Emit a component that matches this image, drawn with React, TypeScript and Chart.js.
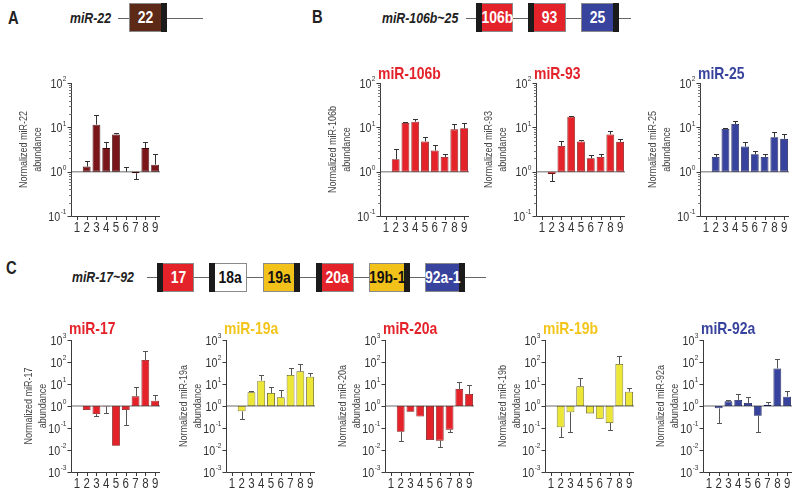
import React, { useEffect, useRef } from 'react';
import { Chart, registerables } from 'chart.js';
Chart.register(...registerables);

const FONT = "'Liberation Sans', Arial, sans-serif";
const SX = 0.82; // horizontal condensing to mimic the condensed face of the original

const categories = ['1', '2', '3', '4', '5', '6', '7', '8', '9'];

const topTickExponents = [-1, 0, 1, 2];
const bottomTickExponents = [-3, -2, -1, 0, 1, 2, 3];

const miR22Values = [null, 1.3, 11.5, 3.4, 6.9, 1.0, 0.92, 3.4, 1.44];
const miR22Errors = [null, 1.7, 19, 4.6, 7.6, 1.25, 0.7, 4.6, 2.5];

const miR106bValues = [null, 1.9, 12.5, 13.4, 4.8, 3.0, 2.15, 9.0, 9.5];
const miR106bErrors = [null, 3.2, 12.9, 15.3, 6.2, 3.9, 2.56, 12, 12.5];

const miR93Values = [null, 0.89, 3.8, 17.4, 4.8, 2.0, 2.15, 6.9, 4.7];
const miR93Errors = [null, 0.63, 4.8, 17.6, 5.3, 2.35, 2.56, 8.4, 5.5];

const miR25Values = [null, 2.15, 9.2, 11.9, 3.7, 2.47, 2.15, 6.0, 5.5];
const miR25Errors = [null, 2.56, 9.5, 14, 4.6, 2.9, 2.47, 8.0, 7.1];

const miR17Values = [null, 0.66, 0.43, 0.95, 0.0157, 0.66, 2.75, 123, 1.75];
const miR17Errors = [null, null, 0.36, 0.46, null, 0.142, 7.1, 304, 3.16];

const miR19aValues = [null, 0.57, 4.2, 14.2, 3.9, 2.48, 25.6, 37.6, 21.5];
const miR19aErrors = [null, 0.26, 4.6, 25.6, 7.1, 5.3, 51, 81, 31.6];

const miR20aValues = [null, 0.068, 0.55, 0.33, 0.0285, 0.0266, 0.084, 5.9, 3.5];
const miR20aErrors = [null, 0.0266, null, null, null, 0.0142, 0.064, 12.8, 9.0];

const miR19bValues = [null, 0.107, 0.52, 7.8, 0.46, 0.26, 0.17, 81, 4.5];
const miR19bErrors = [null, 0.038, 0.068, 18, null, null, 0.084, 195, 6.6];

const miR92aValues = [null, 0.78, 1.63, 1.87, 1.37, 0.36, 1.15, 51, 2.65];
const miR92aErrors = [null, 0.17, 1.94, 3.5, 2.65, 0.068, 1.47, 137, 4.6];

const RED = '#e4222a';
const BLUE = '#37439c';
const YELLOW_T = '#f3c51b';

function condensedText(ctx: CanvasRenderingContext2D, text: string, x: number, y: number, align: CanvasTextAlign, rotate = 0) {
  ctx.save();
  ctx.translate(x, y);
  if (rotate) ctx.rotate(rotate);
  ctx.scale(SX, 1);
  ctx.textAlign = align;
  ctx.fillText(text, 0, 0);
  ctx.restore();
}

const decoPlugin = {
  id: 'miniDeco',
  beforeDatasetsDraw(chart: any) {
    const { ctx, chartArea } = chart;
    const y = chart.scales.y.getPixelForValue(1);
    ctx.save();
    ctx.strokeStyle = '#9c9c9c';
    ctx.lineWidth = 1.5;
    ctx.beginPath();
    ctx.moveTo(chartArea.left, y);
    ctx.lineTo(chartArea.right, y);
    ctx.stroke();
    ctx.restore();
  },
  afterDatasetsDraw(chart: any, _a: any, opts: any) {
    const { ctx } = chart;
    const ys = chart.scales.y;
    const meta = chart.getDatasetMeta(0);
    ctx.save();
    ctx.strokeStyle = opts.errColor;
    ctx.lineWidth = 1;
    (opts.errors as (number | null)[]).forEach((e, i) => {
      const v = opts.values[i];
      if (e == null || v == null) return;
      const el = meta.data[i];
      if (!el) return;
      const x = Math.round(el.x) + 0.5;
      const y0 = ys.getPixelForValue(v);
      const y1 = Math.round(ys.getPixelForValue(e)) + 0.5;
      ctx.beginPath();
      ctx.moveTo(x, y0);
      ctx.lineTo(x, y1);
      ctx.moveTo(x - 2.5, y1);
      ctx.lineTo(x + 2.5, y1);
      ctx.stroke();
    });
    ctx.restore();
  },
  afterDraw(chart: any, _a: any, opts: any) {
    const { ctx, chartArea } = chart;
    const { left, right, top, bottom } = chartArea;
    const ys = chart.scales.y;
    const xs = chart.scales.x;
    ctx.save();
    ctx.strokeStyle = '#3a3a3a';
    ctx.lineWidth = 1;
    const lx = Math.round(left) - 0.5;
    const by = Math.round(bottom) + 0.5;
    ctx.beginPath();
    ctx.moveTo(lx, top);
    ctx.lineTo(lx, by);
    ctx.lineTo(right, by);
    categories.forEach((_c, i) => {
      const x = Math.round(xs.getPixelForValue(i)) + 0.5;
      ctx.moveTo(x, by);
      ctx.lineTo(x, by + 3.5);
    });
    const exps: number[] = opts.exps;
    exps.forEach((k) => {
      const y = Math.round(ys.getPixelForValue(Math.pow(10, k))) + 0.5;
      ctx.moveTo(lx - 4, y);
      ctx.lineTo(lx, y);
    });
    ctx.stroke();
    if (opts.minor) {
      ctx.strokeStyle = '#777';
      ctx.beginPath();
      exps.slice(0, -1).forEach((k) => {
        for (let d = 2; d <= 9; d++) {
          const y = Math.round(ys.getPixelForValue(d * Math.pow(10, k))) + 0.5;
          ctx.moveTo(lx - 2.5, y);
          ctx.lineTo(lx, y);
        }
      });
      ctx.stroke();
    }
    // x tick labels
    ctx.fillStyle = '#333';
    ctx.textBaseline = 'middle';
    ctx.font = `14px ${FONT}`;
    categories.forEach((c, i) => {
      condensedText(ctx, c, xs.getPixelForValue(i), by + 11.5, 'center');
    });
    // y tick labels 10^k
    exps.forEach((k) => {
      const y = ys.getPixelForValue(Math.pow(10, k));
      const ex = k < 0 ? '-' + Math.abs(k) : String(k);
      ctx.font = `8px ${FONT}`;
      const ew = ctx.measureText(ex).width * SX;
      condensedText(ctx, ex, lx - 5, y - 4, 'right');
      ctx.font = `13px ${FONT}`;
      condensedText(ctx, '10', lx - 5 - ew - 0.5, y + 1, 'right');
    });
    // y axis title (two lines, rotated)
    ctx.fillStyle = '#444';
    ctx.font = `11px ${FONT}`;
    const cy = (top + bottom) / 2;
    (opts.yTitle as string[]).forEach((line, i) => {
      condensedText(ctx, line, lx - opts.yTitleGap + i * 14, cy, 'center', -Math.PI / 2);
    });
    if (opts.title) {
      ctx.font = `bold 17px ${FONT}`;
      ctx.fillStyle = opts.titleColor;
      condensedText(ctx, opts.title, left - 3, top - opts.titleDy, 'left');
    }
    ctx.restore();
  },
};

type MiniProps = {
  axisLeft: number;
  top: number;
  bottom: number;
  exps: number[];
  values: (number | null)[];
  errors: (number | null)[];
  fill: string;
  stroke: string;
  errColor: string;
  title?: string;
  titleColor?: string;
  titleDy: number;
  yTitle: string[];
  yTitleGap: number;
  minor: boolean;
};

function MiniChart(p: MiniProps) {
  const ref = useRef<HTMLCanvasElement>(null);
  const PL = 60;
  const PT = 26;
  const PR = 6;
  const PB = 26;
  const W = PL + 88 + PR;
  const H = PT + (p.bottom - p.top) + PB;
  useEffect(() => {
    const chart = new Chart(ref.current as HTMLCanvasElement, {
      type: 'bar',
      data: {
        labels: categories,
        datasets: [
          {
            data: p.values.map((v) => (v == null ? null : [1, v])) as any,
            backgroundColor: p.fill,
            borderColor: p.stroke,
            borderWidth: 0.8,
            borderSkipped: false,
            barPercentage: 0.8,
            categoryPercentage: 1,
          },
        ],
      },
      options: {
        responsive: false,
        animation: false,
        devicePixelRatio: 1,
        layout: { padding: { top: PT, right: PR, left: 0, bottom: 0 } },
        plugins: {
          legend: { display: false },
          tooltip: { enabled: false },
          title: { display: false },
          miniDeco: {
            values: p.values,
            errors: p.errors,
            errColor: p.errColor,
            exps: p.exps,
            minor: p.minor,
            title: p.title,
            titleColor: p.titleColor,
            titleDy: p.titleDy,
            yTitle: p.yTitle,
            yTitleGap: p.yTitleGap,
          },
        } as any,
        scales: {
          x: {
            type: 'category',
            offset: true,
            grid: { display: false, drawTicks: false },
            border: { display: false },
            ticks: { display: false },
            afterFit: (s: any) => {
              s.height = PB;
            },
          },
          y: {
            type: 'logarithmic',
            min: Math.pow(10, p.exps[0]),
            max: Math.pow(10, p.exps[p.exps.length - 1]),
            grid: { display: false, drawTicks: false },
            border: { display: false },
            ticks: { display: false },
            afterFit: (s: any) => {
              s.width = PL;
            },
          },
        } as any,
      },
      plugins: [decoPlugin as any],
    });
    return () => chart.destroy();
  }, []);
  return (
    <div style={{ position: 'absolute', left: p.axisLeft - PL, top: p.top - PT, width: W, height: H }}>
      <canvas ref={ref} width={W} height={H} style={{ display: 'block', width: W, height: H }} />
    </div>
  );
}

type BoxProps = { x: number; y: number; w: number; fill: string; band: 'left' | 'right'; text: string; color: string };
function GeneBox({ x, y, w, fill, band, text, color }: BoxProps) {
  const h = 29;
  return (
    <div
      style={{
        position: 'absolute',
        left: x,
        top: y,
        width: w,
        height: h,
        background: fill,
        boxSizing: 'border-box',
        border: '1px solid #8a8a8a',
      }}
    >
      <div style={{ position: 'absolute', top: -1, bottom: -1, [band]: -1, width: 6, background: '#1b1b1b' }} />
      <div
        style={{
          position: 'absolute',
          top: 0,
          bottom: 0,
          left: band === 'left' ? 5 : 0,
          right: band === 'right' ? 5 : 0,
          display: 'flex',
          alignItems: 'center',
          justifyContent: 'center',
          color,
          font: `bold 17px ${FONT}`,
          whiteSpace: 'nowrap',
        }}
      >
        <span style={{ display: 'inline-block', transform: `scaleX(${SX})` }}>{text}</span>
      </div>
    </div>
  );
}

function Line({ x1, x2, y }: { x1: number; x2: number; y: number }) {
  return <div style={{ position: 'absolute', left: x1, top: y, width: x2 - x1, height: 1, background: '#666' }} />;
}

function Label({ x, y, text, style }: { x: number; y: number; text: string; style: any }) {
  return (
    <div
      style={{
        position: 'absolute',
        left: x,
        top: y - 10,
        height: 20,
        lineHeight: '20px',
        whiteSpace: 'nowrap',
        transform: `scaleX(${SX})`,
        transformOrigin: 'left center',
        ...style,
      }}
    >
      {text}
    </div>
  );
}

const letterStyle = { font: `bold 18px ${FONT}`, color: '#222' };
const geneStyle = { font: `italic bold 15px ${FONT}`, color: '#222' };

export default function App() {
  const topCommon = { top: 83, bottom: 216, exps: topTickExponents, titleDy: 9, yTitleGap: 48, minor: true, errColor: '#333' };
  const botCommon = { top: 340, bottom: 472, exps: bottomTickExponents, titleDy: 11, yTitleGap: 43, minor: false, errColor: '#555' };
  return (
    <div style={{ position: 'absolute', left: 0, top: 0, width: 800, height: 494, background: '#fff', overflow: 'hidden' }}>
      {/* Panel A diagram */}
      <Label x={8} y={18} text="A" style={letterStyle} />
      <Label x={70} y={19} text="miR-22" style={geneStyle} />
      <Line x1={118} x2={203} y={18} />
      <GeneBox x={129} y={3} w={38} fill="#5c2a16" band="right" text="22" color="#fff" />

      {/* Panel B diagram */}
      <Label x={312} y={17} text="B" style={letterStyle} />
      <Label x={382} y={19} text="miR-106b~25" style={geneStyle} />
      <Line x1={466} x2={631} y={18} />
      <GeneBox x={476} y={3} w={37} fill={RED} band="left" text="106b" color="#fff" />
      <GeneBox x={528} y={3} w={38} fill={RED} band="left" text="93" color="#fff" />
      <GeneBox x={581} y={3} w={38} fill={BLUE} band="right" text="25" color="#fff" />

      {/* Panel C diagram */}
      <Label x={6} y={268} text="C" style={letterStyle} />
      <Label x={72} y={278} text="miR-17~92" style={geneStyle} />
      <Line x1={147} x2={486} y={277} />
      <GeneBox x={157} y={263} w={37} fill={RED} band="left" text="17" color="#fff" />
      <GeneBox x={209} y={263} w={38} fill="#fff" band="left" text="18a" color="#111" />
      <GeneBox x={263} y={263} w={37} fill="#f2c21a" band="right" text="19a" color="#111" />
      <GeneBox x={316} y={263} w={38} fill={RED} band="left" text="20a" color="#fff" />
      <GeneBox x={369} y={263} w={41} fill="#f2c21a" band="right" text="19b-1" color="#111" />
      <GeneBox x={425} y={263} w={40} fill={BLUE} band="right" text="92a-1" color="#fff" />

      {/* Panel A / B charts */}
      <MiniChart {...topCommon} axisLeft={72} values={miR22Values} errors={miR22Errors} fill="#7a1519" stroke="#3a0608" yTitle={['Normalized miR-22', 'abundance']} />
      <MiniChart {...topCommon} axisLeft={381} values={miR106bValues} errors={miR106bErrors} fill={RED} stroke="#7a1010" title="miR-106b" titleColor={RED} yTitle={['Normalized miR-106b', 'abundance']} />
      <MiniChart {...topCommon} axisLeft={537} values={miR93Values} errors={miR93Errors} fill={RED} stroke="#7a1010" title="miR-93" titleColor={RED} yTitle={['Normalized miR-93', 'abundance']} />
      <MiniChart {...topCommon} axisLeft={701} values={miR25Values} errors={miR25Errors} fill={BLUE} stroke="#141a50" title="miR-25" titleColor={BLUE} yTitle={['Normalized miR-25', 'abundance']} />

      {/* Panel C charts */}
      <MiniChart {...botCommon} axisLeft={72} values={miR17Values} errors={miR17Errors} fill={RED} stroke="#7a1010" title="miR-17" titleColor={RED} yTitle={['Normalized miR-17', 'abundance']} />
      <MiniChart {...botCommon} axisLeft={227} values={miR19aValues} errors={miR19aErrors} fill="#ece636" stroke="#5a5418" title="miR-19a" titleColor={YELLOW_T} yTitle={['Normalized miR-19a', 'abundance']} />
      <MiniChart {...botCommon} axisLeft={386} values={miR20aValues} errors={miR20aErrors} fill={RED} stroke="#7a1010" title="miR-20a" titleColor={RED} yTitle={['Normalized miR-20a', 'abundance']} />
      <MiniChart {...botCommon} axisLeft={546} values={miR19bValues} errors={miR19bErrors} fill="#ece636" stroke="#5a5418" title="miR-19b" titleColor={YELLOW_T} yTitle={['Normalized miR-19b', 'abundance']} />
      <MiniChart {...botCommon} axisLeft={704} values={miR92aValues} errors={miR92aErrors} fill={BLUE} stroke="#141a50" title="miR-92a" titleColor={BLUE} yTitle={['Normalized miR-92a', 'abundance']} />
    </div>
  );
}
